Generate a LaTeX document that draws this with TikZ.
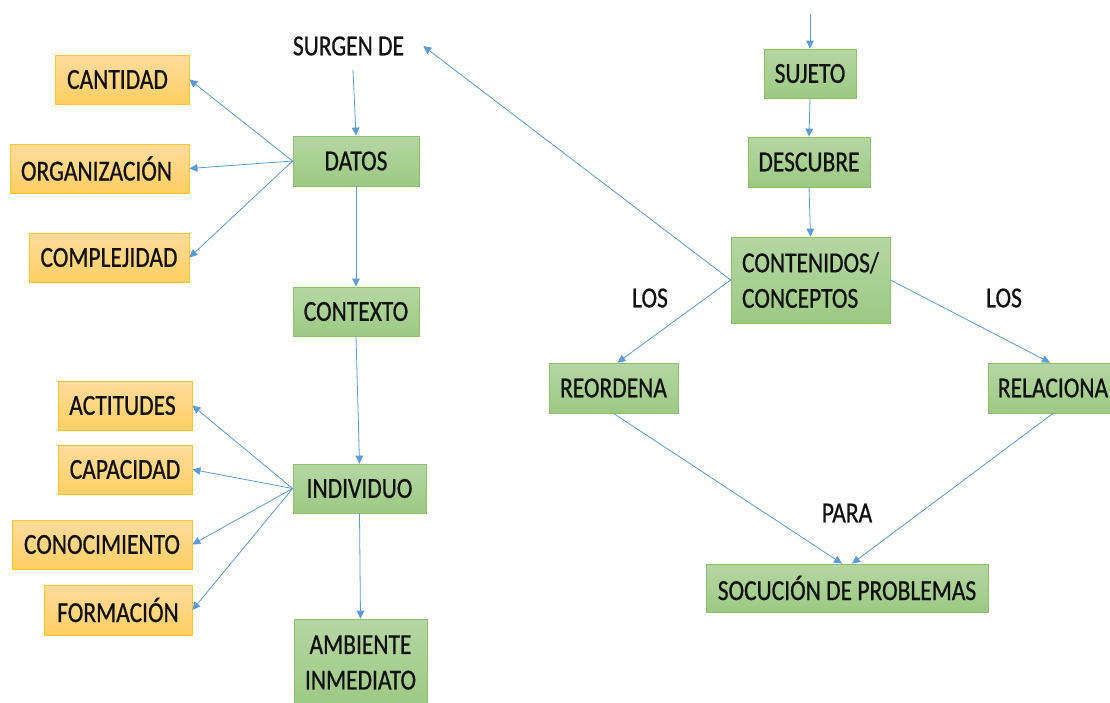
\documentclass[tikz,border=0pt]{standalone}
\usepackage{fontspec}
\setmainfont[FakeStretch=0.81, FakeBold=0.7]{Carlito}
\usetikzlibrary{arrows.meta}

\definecolor{linkblue}{HTML}{5B9BD5}
\definecolor{greentop}{HTML}{B5D7A3}
\definecolor{greenbot}{HTML}{9CC983}
\definecolor{greenline}{HTML}{8CC06C}
\definecolor{orangetop}{HTML}{FFDC9E}
\definecolor{orangebot}{HTML}{FFCF62}
\definecolor{orangeline}{HTML}{FFC52A}
\definecolor{inktext}{HTML}{111111}

\begin{document}
\begin{tikzpicture}[x=1pt, y=-1pt,
  every node/.style={font=\fontsize{29}{35.5}\selectfont, text=inktext},
  greenbox/.style={draw=greenline, line width=0.8pt, top color=greentop,
    bottom color=greenbot, minimum height=49pt, inner sep=0pt, align=center},
  orangebox/.style={draw=orangeline, line width=0.8pt, top color=orangetop,
    bottom color=orangebot, minimum height=49pt, inner sep=0pt, align=center},
  wordlabel/.style={inner sep=2pt},
  link/.style={draw=linkblue, line width=0.8pt,
    -{Triangle[length=8pt, width=7.5pt]}}]

\clip (0,0) rectangle (1110,702);
\fill[white] (0,0) rectangle (1110,702);

% left column: data and the individual
\node[wordlabel] (surgen) at (348.5,46) {SURGEN DE};
\coordinate (surgenfoot) at (353,70);

\node[orangebox, minimum width=134pt] (cantidad) at (122,79.5) {CANTIDAD\hspace*{9pt}};
\node[orangebox, minimum width=179pt] (organizacion) at (99.5,168.5) {ORGANIZACIÓN\hspace*{6pt}};
\node[orangebox, minimum width=160pt] (complejidad) at (109,257.5) {COMPLEJIDAD};

\node[greenbox, minimum width=126pt, minimum height=50pt] (datos) at (356,161) {DATOS};
\node[greenbox, minimum width=126pt] (contexto) at (356,311.5) {CONTEXTO};
\node[greenbox, minimum width=133pt] (individuo) at (359.5,488.5) {INDIVIDUO};
\node[greenbox, minimum width=133pt, minimum height=87pt] (ambiente) at (360.5,662.5) {AMBIENTE\\INMEDIATO};

\node[orangebox, minimum width=134pt] (actitudes) at (125,405.5) {ACTITUDES\hspace*{5pt}};
\node[orangebox, minimum width=134pt] (capacidad) at (125,469.5) {CAPACIDAD};
\node[orangebox, minimum width=180pt] (conocimiento) at (102,544.5) {CONOCIMIENTO};
\node[orangebox, minimum width=148pt, minimum height=50pt] (formacion) at (118,610) {FORMACIÓN};

% right column: the subject and the contents
\coordinate (sujetotop) at (810,14);
\node[greenbox, minimum width=92pt] (sujeto) at (810,73.5) {SUJETO};
\node[greenbox, minimum width=122pt, minimum height=50pt] (descubre) at (809,162) {DESCUBRE};
\node[greenbox, minimum width=159pt, minimum height=86pt, align=left] (contenidos) at (810.5,280) {CONTENIDOS/\\CONCEPTOS};

\node[wordlabel] (losleft) at (650,298) {LOS};
\node[wordlabel] (losright) at (1004,298) {LOS};

\node[greenbox, minimum width=129pt, minimum height=50pt] (reordena) at (613.5,388) {REORDENA};
\node[greenbox, minimum width=130pt, minimum height=50pt] (relaciona) at (1053,388) {RELACIONA};

\node[wordlabel] (para) at (847,513) {PARA};
\node[greenbox, minimum width=282pt, minimum height=48pt] (socucion) at (847,588) {SOCUCIÓN DE PROBLEMAS};

% connectors
\draw[link] (surgenfoot) -- (datos.north);
\draw[link] (datos.west) -- (cantidad.east);
\draw[link] (datos.west) -- (organizacion.east);
\draw[link] (datos.west) -- (complejidad.east);
\draw[link] (datos.south) -- (contexto.north);
\draw[link] (contexto.south) -- (individuo.north);
\draw[link] (individuo.west) -- (actitudes.east);
\draw[link] (individuo.west) -- (capacidad.east);
\draw[link] (individuo.west) -- (conocimiento.east);
\draw[link] (individuo.west) -- (formacion.east);
\draw[link] (individuo.south) -- (ambiente.north);

\draw[link] (sujetotop) -- (sujeto.north);
\draw[link] (sujeto.south) -- (descubre.north);
\draw[link] (descubre.south) -- (contenidos.north);
\draw[link] (contenidos.west) -- ([xshift=17pt]surgen.east);
\draw[link] (contenidos.west) -- ([xshift=4pt]reordena.north);
\draw[link] (contenidos.east) -- ([xshift=-3pt]relaciona.north);
\draw[link] (reordena.south) -- ([xshift=-5pt]socucion.north);
\draw[link] (relaciona.south) -- ([xshift=5pt]socucion.north);
\end{tikzpicture}
\end{document}
